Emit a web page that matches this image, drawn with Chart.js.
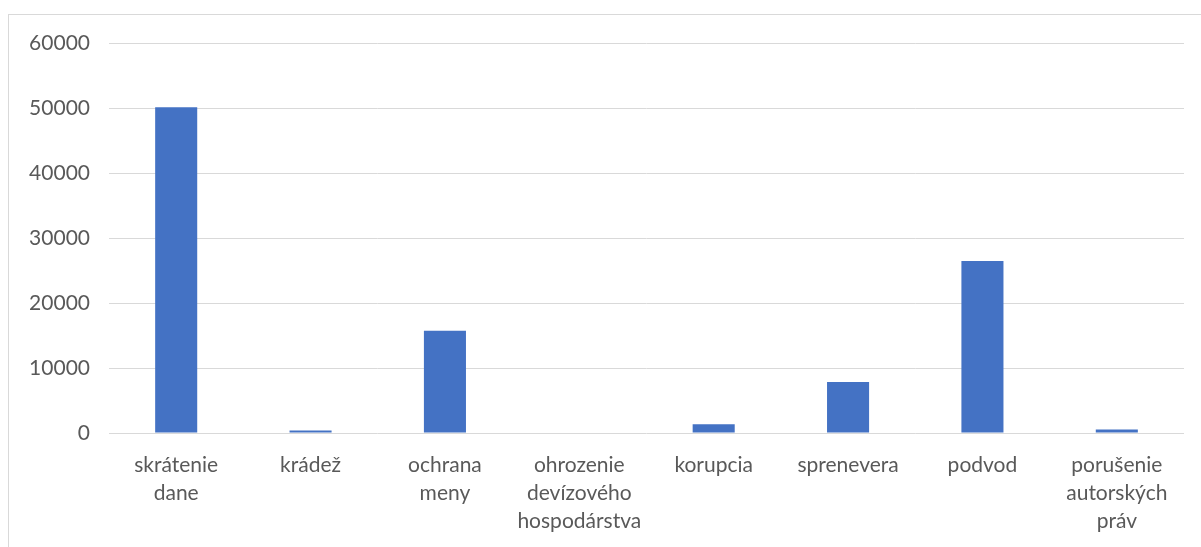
<!DOCTYPE html>
<html>
<head>
<meta charset="utf-8">
<script src="https://cdn.jsdelivr.net/npm/chart.js@4/dist/chart.umd.min.js"></script>
<style>
  html, body { margin: 0; padding: 0; background: #ffffff; overflow: hidden; }
  #frame {
    position: absolute;
    left: 8px;
    top: 14px;
    width: 1220px;
    height: 560px;
    border: 1px solid #d9d9d9;
    box-sizing: border-box;
  }
  #wrap {
    position: absolute;
    left: 9px;
    top: 12px;
    width: 1192px;
    height: 535px;
  }
</style>
</head>
<body>
<div id="frame"></div>
<div id="wrap"><canvas id="chart"></canvas></div>
<script>
// Categories (multi-line labels as shown under the bars)
const categories = [
  ['skrátenie', 'dane'],
  'krádež',
  ['ochrana', 'meny'],
  ['ohrozenie', 'devízového', 'hospodárstva'],
  'korupcia',
  'sprenevera',
  'podvod',
  ['porušenie', 'autorských', 'práv']
];

// Values
const values = [50200, 380, 15770, 0, 1350, 7870, 26490, 540];

// Y axis ticks
const yMin = 0;
const yMax = 60000;
const yStep = 10000;

const TEXT_COLOR = '#595959';
const GRID_COLOR = '#d9d9d9';
const BAR_COLOR = '#4472c4';
const FONT = "Lato, 'Open Sans', sans-serif";

const ctx = document.getElementById('chart').getContext('2d');

new Chart(ctx, {
  type: 'bar',
  data: {
    labels: categories,
    datasets: [{
      data: values,
      backgroundColor: BAR_COLOR,
      borderWidth: 0,
      categoryPercentage: 1,
      barPercentage: 0.313
    }]
  },
  options: {
    responsive: true,
    maintainAspectRatio: false,
    animation: false,
    layout: {
      padding: { top: 0, right: 17, left: 0, bottom: 0 }
    },
    plugins: {
      legend: { display: false },
      tooltip: { enabled: false }
    },
    scales: {
      x: {
        grid: { display: false, drawTicks: false },
        border: { display: false },
        ticks: {
          color: TEXT_COLOR,
          font: { family: FONT, size: 21, lineHeight: 1.33 },
          padding: 18,
          maxRotation: 0,
          autoSkip: false
        },
        afterFit: (scale) => { scale.height = 114; }
      },
      y: {
        min: yMin,
        max: yMax,
        grid: { color: GRID_COLOR, lineWidth: 1, drawTicks: false },
        border: { display: false },
        ticks: {
          stepSize: yStep,
          color: TEXT_COLOR,
          font: { family: FONT, size: 21 },
          padding: 19,
          callback: (value) => String(value)
        },
        afterFit: (scale) => { scale.width = 100; }
      }
    }
  }
});
</script>
</body>
</html>
